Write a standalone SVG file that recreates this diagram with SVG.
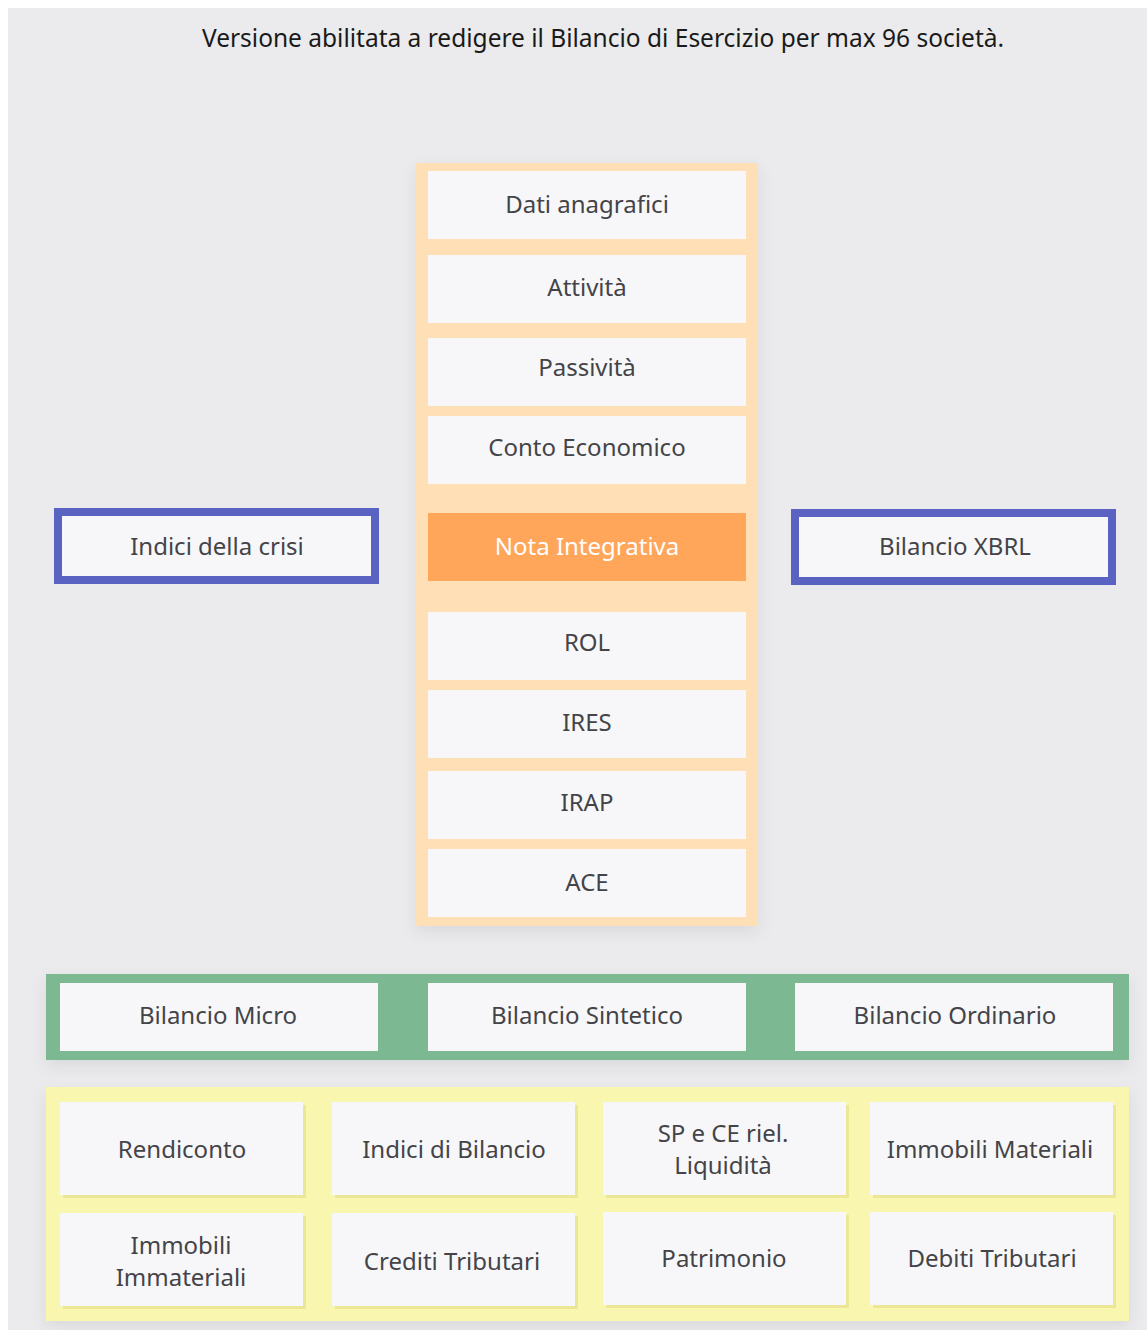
<svg xmlns="http://www.w3.org/2000/svg" width="1147" height="1330" viewBox="0 0 1147 1330">
<defs>
<style>
text{font-family:"Noto Sans","Open Sans","Liberation Sans",sans-serif;font-size:24px;fill:#444448;text-anchor:middle;dominant-baseline:central}
.box{fill:#f7f7f9}
.cell{fill:#f7f7f9;filter:url(#cs)}
.blue{fill:#f7f7f9;stroke:#5a62c2;stroke-width:8}
.title{fill:#1a1a1a;font-size:24.5px}
.white{fill:#ffffff}
</style>
<filter id="sh" x="-20%" y="-20%" width="140%" height="140%">
<feDropShadow dx="0" dy="6" stdDeviation="8" flood-color="#000" flood-opacity="0.08"/>
</filter>
<filter id="cs" x="-5%" y="-5%" width="115%" height="115%">
<feDropShadow dx="3" dy="3" stdDeviation="0.5" flood-color="#d8d070" flood-opacity="0.4"/>
</filter>
</defs>
<rect x="8" y="8" width="1139" height="1322" fill="#ebebed"/>
<text class="title" x="603" y="37">Versione abilitata a redigere il Bilancio di Esercizio per max 96 società.</text>

<g id="center-stack">
<rect x="416" y="163" width="342" height="763" fill="#ffe0b6" filter="url(#sh)"/>
<g id="n-dati"><rect class="box" x="428" y="171" width="318" height="68"/><text x="587" y="203">Dati anagrafici</text></g>
<g id="n-attivita"><rect class="box" x="428" y="255" width="318" height="68"/><text x="587" y="286">Attività</text></g>
<g id="n-passivita"><rect class="box" x="428" y="338" width="318" height="68"/><text x="587" y="366">Passività</text></g>
<g id="n-conto"><rect class="box" x="428" y="416" width="318" height="68"/><text x="587" y="446">Conto Economico</text></g>
<g id="n-nota"><rect x="428" y="513" width="318" height="68" fill="#ffa65a"/><text class="white" x="587" y="545">Nota Integrativa</text></g>
<g id="n-rol"><rect class="box" x="428" y="612" width="318" height="68"/><text x="587" y="641">ROL</text></g>
<g id="n-ires"><rect class="box" x="428" y="690" width="318" height="68"/><text x="587" y="721">IRES</text></g>
<g id="n-irap"><rect class="box" x="428" y="771" width="318" height="68"/><text x="587" y="801">IRAP</text></g>
<g id="n-ace"><rect class="box" x="428" y="849" width="318" height="68"/><text x="587" y="881">ACE</text></g>
</g>

<g id="n-indici-crisi"><rect class="blue" x="58" y="512" width="317" height="68"/><text x="217" y="545">Indici della crisi</text></g>
<g id="n-xbrl"><rect class="blue" x="795" y="513" width="317" height="68"/><text x="955" y="545">Bilancio XBRL</text></g>

<g id="bilanci">
<rect x="46" y="974" width="1083" height="86" fill="#7bb993" filter="url(#sh)"/>
<g id="n-micro"><rect class="box" x="60" y="983" width="318" height="68"/><text x="218" y="1014">Bilancio Micro</text></g>
<g id="n-sintetico"><rect class="box" x="428" y="983" width="318" height="68"/><text x="587" y="1014">Bilancio Sintetico</text></g>
<g id="n-ordinario"><rect class="box" x="795" y="983" width="318" height="68"/><text x="955" y="1014">Bilancio Ordinario</text></g>
</g>

<g id="extra">
<rect x="46" y="1087" width="1083" height="234" fill="#f9f6b0" filter="url(#sh)"/>
<g id="n-rendiconto"><rect class="cell" x="60" y="1102" width="243" height="93"/><text x="182" y="1148">Rendiconto</text></g>
<g id="n-indici-bil"><rect class="cell" x="332" y="1102" width="243" height="93"/><text x="454" y="1148">Indici di Bilancio</text></g>
<g id="n-spce"><rect class="cell" x="603" y="1102" width="243" height="93"/><text x="723" y="1132">SP e CE riel.</text><text x="723" y="1164">Liquidità</text></g>
<g id="n-immat"><rect class="cell" x="870" y="1102" width="243" height="93"/><text x="990" y="1148">Immobili Materiali</text></g>
<g id="n-immimm"><rect class="cell" x="60" y="1213" width="243" height="93"/><text x="181" y="1244">Immobili</text><text x="181" y="1276">Immateriali</text></g>
<g id="n-crediti"><rect class="cell" x="332" y="1213" width="243" height="93"/><text x="452" y="1260">Crediti Tributari</text></g>
<g id="n-patrimonio"><rect class="cell" x="603" y="1212" width="243" height="93"/><text x="724" y="1257">Patrimonio</text></g>
<g id="n-debiti"><rect class="cell" x="870" y="1212" width="243" height="93"/><text x="992" y="1257">Debiti Tributari</text></g>
</g>
<g id="connectors"/>
</svg>
